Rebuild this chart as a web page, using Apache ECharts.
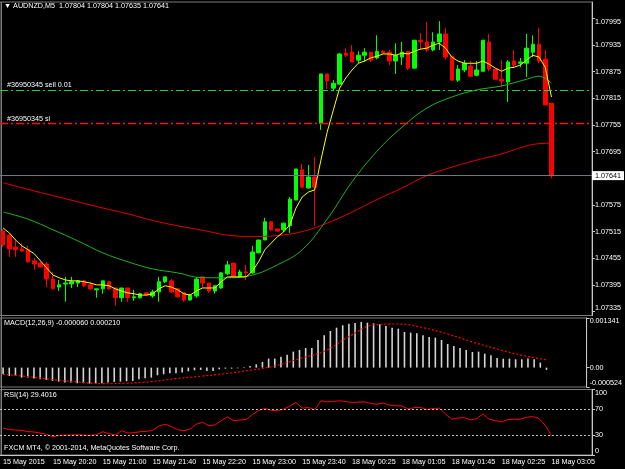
<!DOCTYPE html>
<html>
<head>
<meta charset="utf-8">
<title>AUDNZD,M5</title>
<script src="https://cdn.jsdelivr.net/npm/echarts@6/dist/echarts.min.js"></script>
<style>
  html, body { margin: 0; padding: 0; background: #000; }
  #chart { width: 625px; height: 469px; }
</style>
</head>
<body>
<div id="chart"></div>
<script>
// x axis: one tick label every 8 bars, 6 empty slots after the last bar (chart shift)
const tickLabels = ['15 May 2015', '15 May 20:20', '15 May 21:00', '15 May 21:40', '15 May 22:20', '15 May 23:00',
  '15 May 23:40', '18 May 00:25', '18 May 01:05', '18 May 01:45', '18 May 02:25', '18 May 03:05']
const slotCount = 95

// candles: open, close, low, high
const candles = [
  [1.07516, 1.07485, 1.07480, 1.07521], [1.07507, 1.07476, 1.07458, 1.07510], [1.07480, 1.07474, 1.07458, 1.07498],
  [1.07476, 1.07471, 1.07469, 1.07489], [1.07474, 1.07447, 1.07444, 1.07483], [1.07449, 1.07442, 1.07429, 1.07456],
  [1.07444, 1.07435, 1.07435, 1.07447], [1.07442, 1.07408, 1.07390, 1.07447], [1.07408, 1.07386, 1.07386, 1.07424],
  [1.07390, 1.07395, 1.07381, 1.07406], [1.07397, 1.07399, 1.07357, 1.07413], [1.07397, 1.07402, 1.07388, 1.07413],
  [1.07399, 1.07404, 1.07390, 1.07406], [1.07404, 1.07393, 1.07390, 1.07406], [1.07395, 1.07386, 1.07384, 1.07402],
  [1.07384, 1.07386, 1.07366, 1.07386], [1.07386, 1.07404, 1.07375, 1.07404], [1.07402, 1.07386, 1.07384, 1.07404],
  [1.07388, 1.07366, 1.07348, 1.07388], [1.07366, 1.07388, 1.07357, 1.07388], [1.07388, 1.07366, 1.07357, 1.07388],
  [1.07366, 1.07368, 1.07359, 1.07384], [1.07366, 1.07375, 1.07364, 1.07377], [1.07377, 1.07372, 1.07370, 1.07379],
  [1.07370, 1.07379, 1.07366, 1.07384], [1.07379, 1.07402, 1.07357, 1.07413], [1.07402, 1.07413, 1.07399, 1.07413],
  [1.07404, 1.07379, 1.07377, 1.07408], [1.07386, 1.07368, 1.07366, 1.07388], [1.07377, 1.07361, 1.07357, 1.07377],
  [1.07361, 1.07372, 1.07359, 1.07375], [1.07370, 1.07408, 1.07366, 1.07413], [1.07413, 1.07399, 1.07388, 1.07413],
  [1.07399, 1.07381, 1.07377, 1.07399], [1.07381, 1.07393, 1.07375, 1.07395], [1.07388, 1.07422, 1.07386, 1.07424],
  [1.07420, 1.07440, 1.07417, 1.07449], [1.07444, 1.07413, 1.07411, 1.07444], [1.07413, 1.07424, 1.07411, 1.07429],
  [1.07424, 1.07422, 1.07406, 1.07440], [1.07422, 1.07469, 1.07420, 1.07483], [1.07467, 1.07496, 1.07467, 1.07496],
  [1.07496, 1.07537, 1.07496, 1.07546], [1.07537, 1.07519, 1.07516, 1.07537], [1.07521, 1.07516, 1.07516, 1.07521],
  [1.07519, 1.07534, 1.07514, 1.07534], [1.07528, 1.07588, 1.07512, 1.07593], [1.07586, 1.07656, 1.07586, 1.07656],
  [1.07654, 1.07615, 1.07613, 1.07667], [1.07613, 1.07638, 1.07613, 1.07665], [1.07638, 1.07615, 1.07528, 1.07683],
  [1.07759, 1.07870, 1.07744, 1.07870], [1.07870, 1.07854, 1.07836, 1.07870], [1.07838, 1.07849, 1.07831, 1.07856],
  [1.07847, 1.07915, 1.07847, 1.07917], [1.07917, 1.07912, 1.07908, 1.07928], [1.07919, 1.07897, 1.07897, 1.07935],
  [1.07901, 1.07912, 1.07894, 1.07921], [1.07912, 1.07919, 1.07897, 1.07928], [1.07919, 1.07901, 1.07897, 1.07919],
  [1.07906, 1.07921, 1.07903, 1.07957], [1.07921, 1.07917, 1.07915, 1.07924], [1.07919, 1.07899, 1.07890, 1.07924],
  [1.07899, 1.07912, 1.07870, 1.07939], [1.07908, 1.07919, 1.07890, 1.07942], [1.07921, 1.07883, 1.07879, 1.07921],
  [1.07883, 1.07946, 1.07883, 1.07946], [1.07946, 1.07942, 1.07924, 1.07962], [1.07942, 1.07924, 1.07919, 1.07987],
  [1.07924, 1.07942, 1.07921, 1.07964], [1.07942, 1.07960, 1.07924, 1.07989], [1.07960, 1.07908, 1.07903, 1.07973],
  [1.07910, 1.07856, 1.07856, 1.07910], [1.07856, 1.07881, 1.07852, 1.07890], [1.07879, 1.07894, 1.07874, 1.07901],
  [1.07888, 1.07865, 1.07863, 1.07899], [1.07867, 1.07879, 1.07865, 1.07899], [1.07876, 1.07946, 1.07876, 1.07946],
  [1.07942, 1.07881, 1.07876, 1.07960], [1.07881, 1.07858, 1.07858, 1.07881], [1.07858, 1.07854, 1.07840, 1.07901],
  [1.07852, 1.07897, 1.07807, 1.07901], [1.07899, 1.07890, 1.07885, 1.07924], [1.07894, 1.07897, 1.07885, 1.07906],
  [1.07894, 1.07928, 1.07863, 1.07960], [1.07919, 1.07937, 1.07908, 1.07957], [1.07937, 1.07899, 1.07894, 1.07973],
  [1.07903, 1.07800, 1.07800, 1.07924], [1.07804, 1.07641, 1.07635, 1.07804]
]

// moving averages (fast one per bar, slow ones every few bars)
const fastMa = [
  1.07523, 1.07512, 1.07496, 1.07483, 1.07474, 1.07465, 1.07449, 1.07433, 1.07417, 1.07411,
  1.07406, 1.07404, 1.07404, 1.07402, 1.07399, 1.07395, 1.07395, 1.07393, 1.07386, 1.07381,
  1.07377, 1.07375, 1.07372, 1.07372, 1.07375, 1.07386, 1.07393, 1.07390, 1.07384, 1.07375,
  1.07372, 1.07381, 1.07388, 1.07388, 1.07388, 1.07402, 1.07413, 1.07413, 1.07413, 1.07413,
  1.07426, 1.07447, 1.07474, 1.07489, 1.07503, 1.07514, 1.07530, 1.07568, 1.07593, 1.07604,
  1.07609, 1.07676, 1.07739, 1.07789, 1.07838, 1.07861, 1.07879, 1.07894, 1.07899, 1.07906,
  1.07910, 1.07915, 1.07915, 1.07912, 1.07917, 1.07915, 1.07921, 1.07926, 1.07928, 1.07935,
  1.07939, 1.07928, 1.07908, 1.07899, 1.07894, 1.07894, 1.07894, 1.07899, 1.07892, 1.07883,
  1.07876, 1.07883, 1.07885, 1.07890, 1.07901, 1.07912, 1.07908, 1.07885, 1.07818
]
const midMa = [
  [0, 1.07559], [4, 1.07543], [8, 1.07519], [12, 1.07494], [16, 1.07467], [20, 1.07447], [24, 1.07431],
  [28, 1.07422], [32, 1.07411], [36, 1.07411], [40, 1.07417], [44, 1.07440], [48, 1.07474], [52, 1.07543],
  [56, 1.07627], [60, 1.07696], [64, 1.07750], [68, 1.07793], [72, 1.07818], [76, 1.07834], [80, 1.07843],
  [84, 1.07858], [86, 1.07865], [88, 1.07849]
]
const slowMa = [
  [0, 1.07625], [4, 1.07610], [8, 1.07596], [12, 1.07582], [16, 1.07568], [20, 1.07555], [24, 1.07540],
  [28, 1.07528], [32, 1.07518], [36, 1.07507], [40, 1.07504], [44, 1.07506], [48, 1.07515], [52, 1.07534],
  [56, 1.07559], [60, 1.07587], [64, 1.07613], [68, 1.07641], [72, 1.07660], [76, 1.07676], [80, 1.07690],
  [84, 1.07708], [86, 1.07713], [88, 1.07714]
]

const priceTicks = [1.07335, 1.07395, 1.07455, 1.07515, 1.07575, 1.07695, 1.07755, 1.07815, 1.07875, 1.07935, 1.07995]
const lastPrice = 1.07641
const orderLevels = [1.07834, 1.07758]
const orderLabels = ['#36950345 sell 0.01', '#36950345 sl']

// MACD(12,26,9)
const macdHist = [
  -0.000180, -0.000225, -0.000225, -0.000270, -0.000270, -0.000297, -0.000315, -0.000333, -0.000360, -0.000378,
  -0.000405, -0.000405, -0.000423, -0.000423, -0.000432, -0.000432, -0.000423, -0.000405, -0.000387, -0.000378,
  -0.000369, -0.000360, -0.000315, -0.000288, -0.000270, -0.000207, -0.000180, -0.000153, -0.000153, -0.000135,
  -0.000099, -0.000072, -0.000063, -0.000090, -0.000090, -0.000045, -0.000027, -0.000027, -0.000018, -0.000009,
  0.000045, 0.000090, 0.000153, 0.000243, 0.000243, 0.000297, 0.000351, 0.000432, 0.000477, 0.000531,
  0.000531, 0.000747, 0.000873, 0.000990, 0.001080, 0.001143, 0.001188, 0.001206, 0.001233, 0.001215,
  0.001197, 0.001170, 0.001125, 0.001080, 0.001053, 0.000963, 0.000945, 0.000927, 0.000873, 0.000828,
  0.000810, 0.000747, 0.000639, 0.000585, 0.000531, 0.000477, 0.000423, 0.000432, 0.000378, 0.000333,
  0.000261, 0.000243, 0.000243, 0.000225, 0.000225, 0.000243, 0.000225, 0.000135, -0.000060
]
const macdSignal = [
  [0, -0.000180], [4, -0.000243], [8, -0.000324], [12, -0.000387], [16, -0.000432], [20, -0.000423],
  [24, -0.000378], [28, -0.000297], [32, -0.000234], [36, -0.000162], [40, -0.000072], [44, 0.000045],
  [48, 0.000243], [52, 0.000441], [56, 0.000837], [60, 0.001152], [64, 0.001179], [68, 0.001080],
  [72, 0.000909], [76, 0.000693], [80, 0.000504], [84, 0.000333], [88, 0.000210]
]
const macdTicks = [-0.000524, 0, 0.001341]

// RSI(14)
const rsi = [
  41.2, 38.7, 38.2, 37.6, 35.6, 35.1, 33.5, 31.5, 27.9, 30.0,
  30.5, 30.5, 31.0, 30.5, 30.0, 31.0, 35.6, 32.5, 30.5, 37.1,
  33.5, 34.1, 35.6, 36.1, 37.6, 44.3, 46.9, 43.3, 38.7, 37.1,
  39.7, 46.9, 50.0, 44.8, 45.8, 52.5, 58.2, 52.5, 53.5, 54.1,
  61.8, 67.9, 71.0, 68.4, 67.4, 69.9, 74.6, 80.2, 71.5, 72.5,
  68.9, 82.8, 81.2, 81.7, 82.8, 81.7, 80.2, 80.7, 81.2, 78.7,
  77.6, 79.2, 76.1, 75.1, 75.1, 70.0, 72.5, 72.5, 69.4, 71.0,
  71.5, 62.3, 54.6, 56.6, 57.1, 53.5, 55.6, 62.8, 54.6, 52.5,
  50.5, 54.1, 54.6, 54.6, 57.6, 58.7, 55.6, 45.3, 29.4
]
const rsiTicks = [0, 30, 70, 100]
const rsiLevels = [30, 70]

const headerText = '\u25BC AUDNZD,M5  1.07804 1.07804 1.07635 1.07641'
const macdText = 'MACD(12,26,9) -0.000060 0.000210'
const rsiText = 'RSI(14) 29.4016'
const copyText = 'FXCM MT4, \u00A9 2001-2014, MetaQuotes Software Corp.'

const FONT = '"Liberation Sans", Arial, sans-serif'
const txt = { color: '#ffffff', fontFamily: FONT, fontSize: 7.2, fontWeight: 'normal' }
const frame = '#7d7d7d'
const axisClr = '#c8c8c8'
const slots = Array.from({ length: slotCount }, (_, i) => String(i))

function panelX(gridIndex, shown) {
  return {
    type: 'category', gridIndex, data: slots, boundaryGap: true, show: shown,
    axisLine: { lineStyle: { color: axisClr } },
    axisTick: { interval: 7, alignWithLabel: true, length: 3, lineStyle: { color: axisClr } },
    axisLabel: {
      interval: 7, align: 'left', margin: 4, ...txt,
      formatter: (v, i) => tickLabels[i / 8] ?? ''
    },
    splitLine: { show: false }
  }
}

function panelY(gridIndex, min, max, ticks, fmt) {
  return {
    type: 'value', gridIndex, position: 'right', min, max,
    axisLine: { show: true, lineStyle: { color: axisClr } },
    axisTick: { show: true, length: 3, customValues: ticks, lineStyle: { color: axisClr } },
    axisLabel: {
      customValues: ticks, formatter: fmt, margin: 3, ...txt,
      verticalAlignMinLabel: 'bottom', verticalAlignMaxLabel: 'top'
    },
    splitLine: { show: false }
  }
}

// horizontal levels of the open order and the last bid
const levelLines = [
  {
    yAxis: orderLevels[0], lineStyle: { color: '#32cd32', type: [8, 3, 2, 3], width: 1 },
    label: { show: true, position: 'insideStartTop', formatter: orderLabels[0], distance: [7, 1], ...txt }
  },
  {
    yAxis: orderLevels[1], lineStyle: { color: '#ff1010', type: [8, 3, 2, 3], width: 1.3 },
    label: { show: true, position: 'insideStartTop', formatter: orderLabels[1], distance: [7, 1], ...txt }
  },
  {
    yAxis: lastPrice, lineStyle: { color: '#6f7780', type: 'solid', width: 1 },
    label: {
      show: true, position: 'end', formatter: lastPrice.toFixed(5), distance: 0,
      backgroundColor: '#ffffff', padding: [1, 3, 1, 3], ...txt, color: '#000000'
    }
  }
]

const gridBase = { left: -0.2, right: 33, show: true, borderColor: frame, borderWidth: 1 }

const chart = echarts.init(document.getElementById('chart'))
chart.setOption({
  backgroundColor: '#000000',
  animation: false,
  title: [
    { text: headerText, left: 4, top: 3, padding: 0, textStyle: txt },
    { text: macdText, left: 4, top: 320, padding: 0, textStyle: txt },
    { text: rsiText, left: 4, top: 392, padding: 0, textStyle: txt },
    { text: copyText, left: 4, top: 445, padding: 0, textStyle: txt }
  ],
  graphic: [
    { type: 'line', shape: { x1: 1.5, y1: 2, x2: 1.5, y2: 455 }, style: { stroke: frame, lineWidth: 1 }, silent: true }
  ],
  grid: [
    { ...gridBase, top: 2, height: 313.5 },
    { ...gridBase, top: 318, height: 69 },
    { ...gridBase, top: 389.5, height: 65.5 }
  ],
  xAxis: [panelX(0, false), panelX(1, false), panelX(2, true)],
  yAxis: [
    panelY(0, 1.07326, 1.08032, priceTicks, v => v.toFixed(5)),
    panelY(1, -0.000524, 0.001341, macdTicks, v => (v === 0 ? '0.00' : v.toFixed(6))),
    panelY(2, 0, 100, rsiTicks, v => String(v))
  ],
  series: [
    {
      type: 'line', xAxisIndex: 0, yAxisIndex: 0, data: [], silent: true,
      markLine: { silent: true, symbol: ['none', 'none'], precision: 5, data: levelLines }
    },
    {
      type: 'candlestick', xAxisIndex: 0, yAxisIndex: 0, data: candles, barWidth: 4,
      itemStyle: { color: '#00ff00', color0: '#ff0000', borderColor: '#00ff00', borderColor0: '#ff0000', borderWidth: 1 }
    },
    {
      type: 'line', xAxisIndex: 0, yAxisIndex: 0, data: slowMa, smooth: 0.4, showSymbol: false,
      lineStyle: { color: '#e00000', width: 1 }
    },
    {
      type: 'line', xAxisIndex: 0, yAxisIndex: 0, data: midMa, smooth: 0.4, showSymbol: false,
      lineStyle: { color: '#1fb41f', width: 1 }
    },
    {
      type: 'line', xAxisIndex: 0, yAxisIndex: 0, data: fastMa, showSymbol: false,
      lineStyle: { color: '#ffff00', width: 1 }
    },
    {
      type: 'bar', xAxisIndex: 1, yAxisIndex: 1, data: macdHist, barWidth: 1.6,
      itemStyle: { color: '#d4d4d4' }
    },
    {
      type: 'line', xAxisIndex: 1, yAxisIndex: 1, data: macdSignal, smooth: 0.4, showSymbol: false,
      lineStyle: { color: '#ff0000', width: 1.2, type: [2, 2] }
    },
    {
      type: 'line', xAxisIndex: 2, yAxisIndex: 2, data: rsi, showSymbol: false,
      lineStyle: { color: '#ff0000', width: 1 },
      markLine: {
        silent: true, symbol: ['none', 'none'], label: { show: false },
        lineStyle: { color: '#bfbfbf', type: [2, 2], width: 1 },
        data: rsiLevels.map(v => ({ yAxis: v }))
      }
    }
  ]
})
</script>
</body>
</html>
